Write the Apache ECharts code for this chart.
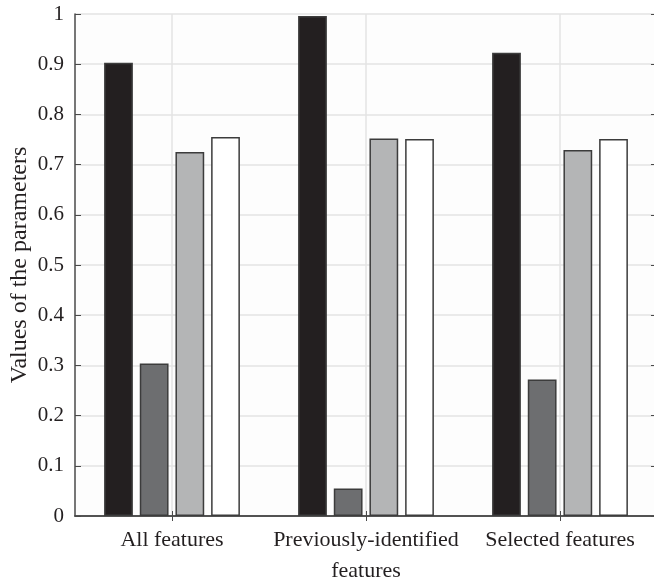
<!DOCTYPE html>
<html><head><meta charset="utf-8">
<script src="https://cdn.jsdelivr.net/npm/echarts@6/dist/echarts.min.js"></script>
<style>html,body{margin:0;padding:0;background:#fff}#c{width:654px;height:585px}</style>
</head><body><div id="c"></div>
<script>
const categories = ['All features', 'Previously-identified\nfeatures', 'Selected features'];
const series1 = [0.903, 0.996, 0.923];
const series2 = [0.304, 0.055, 0.272];
const series3 = [0.725, 0.752, 0.729];
const series4 = [0.755, 0.751, 0.751];
const yTicks = [0, 0.1, 0.2, 0.3, 0.4, 0.5, 0.6, 0.7, 0.8, 0.9, 1];

const font = 'Liberation Serif';
const axisCol = '#4a4a4a';
const barBorder = '#3c3c3c';
const fills = ['#231f20', '#6d6e70', '#b4b5b6', '#ffffff'];
const all = [series1, series2, series3, series4];

const chart = echarts.init(document.getElementById('c'), null, {renderer: 'canvas'});
chart.setOption({
  animation: false,
  backgroundColor: '#ffffff',
  grid: {left: 75, top: 14, right: -3, bottom: 69, containLabel: false, outerBoundsMode: 'none',
         show: true, backgroundColor: '#fdfdfd', borderWidth: 0},
  xAxis: [{
    type: 'category', data: categories, position: 'bottom',
    axisLine: {show: true, lineStyle: {color: axisCol, width: 1.5}},
    axisTick: {show: true, inside: true, alignWithLabel: true, length: 5, lineStyle: {color: axisCol}},
    splitLine: {show: true, alignWithLabel: true, lineStyle: {color: '#e3e3e3', width: 1.5}},
    axisLabel: {interval: 0, fontFamily: font, fontSize: 22, color: '#231f20', margin: 9, lineHeight: 31}
  }, {
    type: 'category', data: categories, position: 'top',
    axisLine: {show: true, lineStyle: {color: axisCol, width: 1.5}},
    axisTick: {show: true, inside: true, alignWithLabel: true, length: 5, lineStyle: {color: axisCol}},
    axisLabel: {show: false}, splitLine: {show: false}
  }],
  yAxis: [{
    type: 'value', min: 0, max: 1, interval: 0.1, position: 'left',
    name: 'Values of the parameters', nameLocation: 'middle', nameGap: 43, nameMoveOverlap: false,
    nameTextStyle: {fontFamily: font, fontSize: 24, color: '#231f20'},
    axisLine: {show: true, lineStyle: {color: axisCol, width: 1.5}},
    axisTick: {show: true, inside: true, length: 6, lineStyle: {color: axisCol}},
    splitLine: {show: true, lineStyle: {color: '#e3e3e3', width: 1.5}},
    axisLabel: {fontFamily: font, fontSize: 21, color: '#231f20', margin: 11,
      formatter: v => { const t = yTicks.find(x => Math.abs(x - v) < 1e-9); return t === undefined ? '' : String(t); }}
  }, {
    type: 'value', min: 0, max: 1, interval: 0.1, position: 'right',
    axisLine: {show: true, lineStyle: {color: axisCol, width: 1.5}},
    axisTick: {show: true, inside: true, length: 6, lineStyle: {color: axisCol}},
    axisLabel: {show: false}, splitLine: {show: false}
  }],
  series: all.map((d, i) => ({
    type: 'bar', data: d, xAxisIndex: 0, yAxisIndex: 0,
    barGap: '24%', barCategoryGap: '30%',
    itemStyle: {color: fills[i], borderColor: barBorder, borderWidth: 1.5},
    z: 3
  }))
});
</script></body></html>
